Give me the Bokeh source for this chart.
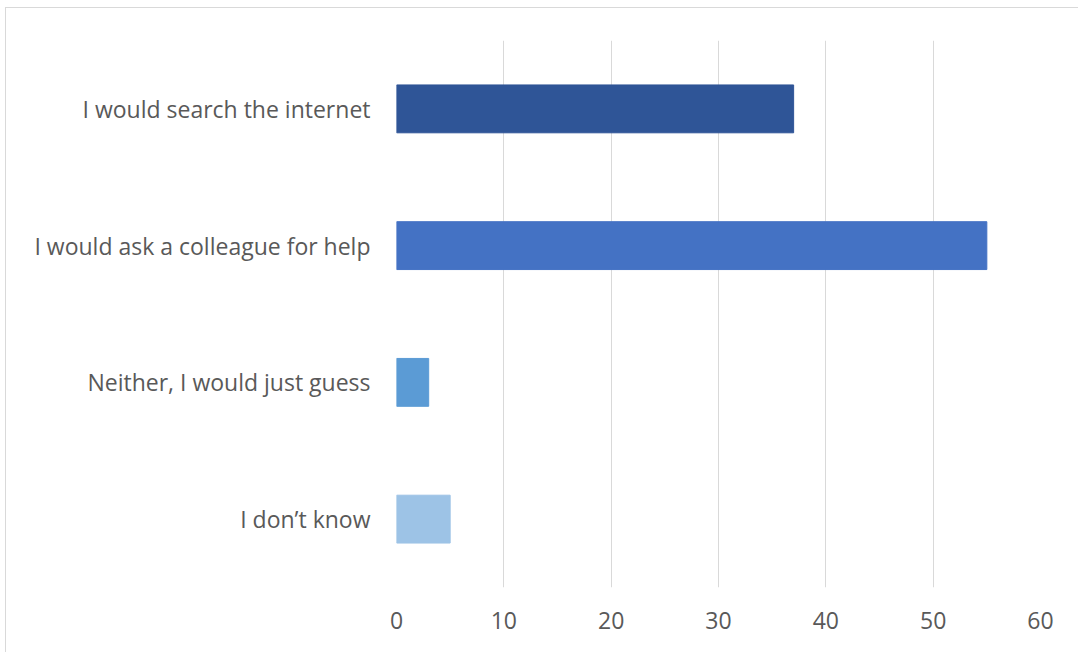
from bokeh.plotting import figure
from bokeh.models import ColumnDataSource, FactorRange, Range1d, FixedTicker
from bokeh.embed import file_html
from bokeh.resources import INLINE

categories = ["I would search the internet", "I would ask a colleague for help",
              "Neither, I would just guess", "I don\u2019t know"]
values = [37, 55, 3, 5]
colors = ["#2F5597", "#4472C4", "#5B9BD5", "#9DC3E6"]
x_ticks = [0, 10, 20, 30, 40, 50, 60]

source = ColumnDataSource(dict(cat=categories, val=values, color=colors))

p = figure(width=1078, height=652, output_backend="svg", toolbar_location=None,
           y_range=FactorRange(*list(reversed(categories)), range_padding=0),
           x_range=Range1d(0, 60),
           min_border_left=396, min_border_right=38, min_border_top=40, min_border_bottom=65)

p.hbar(y="cat", right="val", left=0, height=0.35, color="color", source=source)

p.outline_line_color = None
p.border_fill_color = None
p.ygrid.grid_line_color = None
p.xgrid.grid_line_color = "#d9d9d9"
p.xgrid.grid_line_width = 1
p.xaxis.ticker = FixedTicker(ticks=x_ticks)
p.xaxis.axis_line_color = None
p.xaxis.major_tick_line_color = None
p.xaxis.minor_tick_line_color = None
p.xaxis.major_label_standoff = 18
p.yaxis.axis_line_color = None
p.yaxis.major_tick_line_color = None
p.yaxis.minor_tick_line_color = None
p.yaxis.major_label_standoff = 20
for ax in (p.xaxis, p.yaxis):
    ax.major_label_text_font = "Open Sans"
    ax.major_label_text_font_size = "23px"
    ax.major_label_text_color = "#595959"
p.styles = {
    "background": "linear-gradient(#d9d9d9, #d9d9d9) 5px 7px / 1px 100% no-repeat, "
                  "linear-gradient(#d9d9d9, #d9d9d9) 5px 7px / 100% 1px no-repeat, white"
}

open("out.html", "w").write(file_html(p, INLINE))
